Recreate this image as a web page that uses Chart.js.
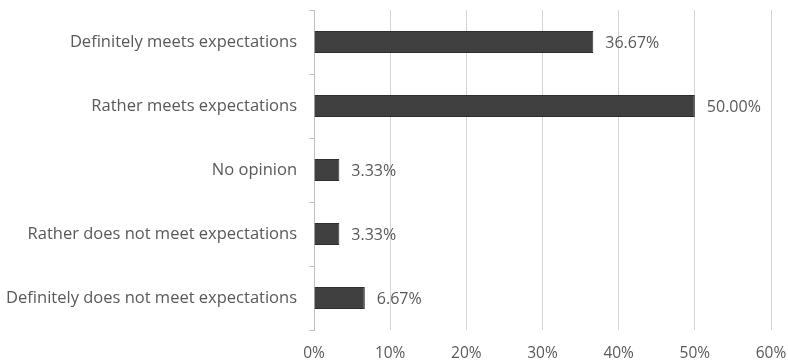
<!DOCTYPE html>
<html>
<head>
<meta charset="utf-8">
<script src="https://cdn.jsdelivr.net/npm/chart.js@4/dist/chart.umd.min.js"></script>
<style>
  html, body { margin: 0; padding: 0; background: #fff; }
  #wrap { width: 788px; height: 363px; }
</style>
</head>
<body>
<div id="wrap"><canvas id="myChart" width="788" height="363"></canvas></div>
<script>
const categories = [
    'Definitely meets expectations',
    'Rather meets expectations',
    'No opinion',
    'Rather does not meet expectations',
    'Definitely does not meet expectations'
];
const shares = [36.67, 50.00, 3.33, 3.33, 6.67];
const xTicks = [0, 10, 20, 30, 40, 50, 60];

const textColor = '#595959';
const fontFamily = '"Open Sans", Lato, sans-serif';

// Writes the percentage just past the end of each bar
const valueLabels = {
    id: 'valueLabels',
    afterDatasetsDraw(chart) {
        const ctx = chart.ctx;
        const meta = chart.getDatasetMeta(0);
        ctx.save();
        ctx.font = '16px ' + fontFamily;
        ctx.fillStyle = textColor;
        ctx.textAlign = 'left';
        ctx.textBaseline = 'middle';
        meta.data.forEach((bar, i) => {
            ctx.fillText(shares[i].toFixed(2) + '%', bar.x + 12, bar.y + 1);
        });
        ctx.restore();
    }
};

const ctx = document.getElementById('myChart').getContext('2d');
new Chart(ctx, {
    type: 'bar',
    data: {
        labels: categories,
        datasets: [{
            data: shares,
            backgroundColor: '#404040',
            borderColor: '#2e2e2e',
            borderWidth: 1,
            barPercentage: 0.68,
            categoryPercentage: 0.5
        }]
    },
    options: {
        indexAxis: 'y',
        responsive: false,
        animation: false,
        layout: { padding: { top: 10, right: 17, bottom: 0, left: 0 } },
        plugins: {
            legend: { display: false },
            tooltip: { enabled: false }
        },
        scales: {
            x: {
                min: 0,
                max: 60,
                afterBuildTicks(axis) {
                    axis.ticks = xTicks.map(v => ({ value: v }));
                },
                afterFit(axis) {
                    axis.height = 33;
                    axis.paddingLeft = 0;
                    axis.paddingRight = 0;
                },
                grid: {
                    color: '#d4d4d4',
                    lineWidth: 1,
                    drawTicks: false
                },
                border: { display: false },
                ticks: {
                    padding: 14,
                    color: textColor,
                    font: { family: fontFamily, size: 15.5 },
                    callback: v => v + '%'
                }
            },
            y: {
                afterFit(axis) {
                    axis.width = 314;
                    axis.paddingTop = 0;
                    axis.paddingBottom = 0;
                },
                grid: {
                    offset: true,
                    drawOnChartArea: false,
                    drawTicks: true,
                    tickLength: 5,
                    color: '#bfbfbf'
                },
                border: { display: true, color: '#bfbfbf', width: 1 },
                ticks: {
                    padding: 12,
                    color: textColor,
                    font: { family: fontFamily, size: 16.5 }
                }
            }
        }
    },
    plugins: [valueLabels]
});
</script>
</body>
</html>
